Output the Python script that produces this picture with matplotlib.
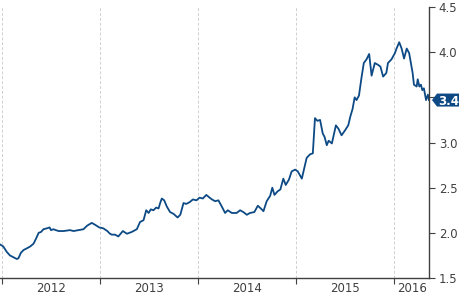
import matplotlib
matplotlib.use("Agg")
import matplotlib.pyplot as plt
from matplotlib.patches import Polygon
import pandas as pd

fechas = [
    "2011-12-25", "2012-01-05", "2012-01-18", "2012-01-30", "2012-02-12", "2012-02-25",
    "2012-03-02", "2012-03-11", "2012-03-21", "2012-04-03", "2012-04-15", "2012-04-27",
    "2012-05-07", "2012-05-16", "2012-05-25", "2012-06-03", "2012-06-16", "2012-06-26",
    "2012-07-01", "2012-07-10", "2012-07-29", "2012-08-17", "2012-09-10", "2012-09-23",
    "2012-10-11", "2012-10-30", "2012-11-13", "2012-11-30", "2012-12-12", "2012-12-28",
    "2013-01-12", "2013-01-27", "2013-02-06", "2013-02-13", "2013-02-25", "2013-03-09",
    "2013-03-26", "2013-04-10", "2013-04-28", "2013-05-17", "2013-05-29", "2013-06-11",
    "2013-06-21", "2013-06-30", "2013-07-08", "2013-07-18", "2013-07-28", "2013-08-06",
    "2013-08-12", "2013-08-18", "2013-08-27", "2013-09-06", "2013-09-18", "2013-10-01",
    "2013-10-16", "2013-10-26", "2013-11-07", "2013-11-17", "2013-11-30", "2013-12-12",
    "2013-12-25", "2014-01-06", "2014-01-18", "2014-01-31", "2014-02-12", "2014-02-21",
    "2014-03-05", "2014-03-17", "2014-03-30", "2014-04-11", "2014-04-21", "2014-05-06",
    "2014-05-24", "2014-06-06", "2014-06-18", "2014-07-01", "2014-07-13", "2014-07-29",
    "2014-08-11", "2014-08-22", "2014-09-01", "2014-09-13", "2014-09-26", "2014-10-04",
    "2014-10-12", "2014-10-24", "2014-11-03", "2014-11-14", "2014-11-23", "2014-12-05",
    "2014-12-15", "2014-12-28", "2015-01-07", "2015-01-22", "2015-02-01", "2015-02-09",
    "2015-02-22", "2015-03-04", "2015-03-12", "2015-03-21", "2015-03-31", "2015-04-10",
    "2015-04-17", "2015-04-25", "2015-05-02", "2015-05-14", "2015-05-29", "2015-06-08",
    "2015-06-19", "2015-07-01", "2015-07-14", "2015-07-22", "2015-07-30", "2015-08-07",
    "2015-08-14", "2015-08-23", "2015-09-01", "2015-09-10", "2015-09-20", "2015-09-30",
    "2015-10-09", "2015-10-21", "2015-11-02", "2015-11-11", "2015-11-21", "2015-12-03",
    "2015-12-09", "2015-12-22", "2016-01-04", "2016-01-10", "2016-01-20", "2016-01-29",
    "2016-02-07", "2016-02-17", "2016-02-26", "2016-03-10", "2016-03-15", "2016-03-25",
    "2016-03-29", "2016-04-04", "2016-04-10", "2016-04-15", "2016-04-21", "2016-04-29",
    "2016-05-06", "2016-05-10",
]

valores = [
    1.87, 1.85, 1.79, 1.75, 1.73, 1.71,
    1.72, 1.78, 1.81, 1.83, 1.85, 1.88,
    1.94, 2.00, 2.01, 2.04, 2.05, 2.06,
    2.03, 2.04, 2.02, 2.02, 2.03, 2.02,
    2.03, 2.04, 2.08, 2.11, 2.09, 2.06,
    2.05, 2.02, 1.99, 1.98, 1.98, 1.96,
    2.02, 1.99, 2.01, 2.04, 2.12, 2.14,
    2.25, 2.22, 2.26, 2.25, 2.28, 2.27,
    2.33, 2.38, 2.36, 2.29, 2.23, 2.21,
    2.17, 2.20, 2.33, 2.32, 2.34, 2.37,
    2.36, 2.39, 2.38, 2.42, 2.39, 2.37,
    2.35, 2.36, 2.29, 2.22, 2.25, 2.22,
    2.22, 2.25, 2.23, 2.20, 2.22, 2.23,
    2.30, 2.27, 2.24, 2.35, 2.41, 2.50,
    2.42, 2.46, 2.48, 2.60, 2.53, 2.59,
    2.68, 2.70, 2.68, 2.60, 2.73, 2.83,
    2.87, 2.88, 3.27, 3.24, 3.25, 3.10,
    3.06, 2.97, 3.02, 2.99, 3.19, 3.15,
    3.08, 3.13, 3.19, 3.29, 3.37, 3.50,
    3.47, 3.52, 3.71, 3.88, 3.92, 3.98,
    3.74, 3.88, 3.86, 3.84, 3.73, 3.77,
    3.88, 3.92, 3.99, 4.04, 4.11, 4.04,
    3.93, 4.04, 3.99, 3.77, 3.64, 3.62,
    3.70, 3.62, 3.64, 3.58, 3.60, 3.47,
    3.53, 3.47,
]

anios = ["2012", "2013", "2014", "2015", "2016"]
ultimo_valor = 3.47

azul = "#0d4a85"
gris = "#404040"

fechas = pd.to_datetime(fechas)

fig = plt.figure(figsize=(4.6, 2.95), dpi=100)
ax = fig.add_axes([0.0, 0.0576, 0.9326, 0.9186])

ax.plot(fechas, valores, color=azul, linewidth=1.3)

ax.set_ylim(1.5, 4.5)
ax.set_xlim(pd.Timestamp("2011-12-24"), pd.Timestamp("2016-05-10"))

# ejes: solo derecha y abajo
ax.spines["left"].set_visible(False)
ax.spines["top"].set_visible(False)
for lado in ("right", "bottom"):
    ax.spines[lado].set_color(gris)
    ax.spines[lado].set_linewidth(1.0)

ax.yaxis.tick_right()
ax.set_yticks([1.5, 2.0, 2.5, 3.0, 3.5, 4.0, 4.5])
ax.set_yticklabels(["1.5", "2.0", "2.5", "3.0", "", "4.0", "4.5"])
ax.tick_params(axis="y", direction="out", length=4, color=gris,
               labelsize=8.5, labelcolor=gris, pad=3)

# marcas de año en los limites, etiquetas a mitad de año
inicios = [pd.Timestamp(f"{a}-01-01") for a in anios]
ax.set_xticks(inicios)
ax.set_xticklabels([])
ax.tick_params(axis="x", which="major", direction="out", length=4, color=gris)
medios = [pd.Timestamp(f"{a}-07-01") for a in anios[:-1]] + [pd.Timestamp("2016-03-08")]
ax.set_xticks(medios, minor=True)
ax.set_xticklabels(anios, minor=True)
ax.tick_params(axis="x", which="minor", length=0, labelsize=8.5,
               labelcolor=gris, pad=3)

ax.grid(axis="x", which="major", color="#d0d0d0", linestyle=(0, (3, 2)), linewidth=0.7)
ax.grid(axis="y", visible=False)

# etiqueta del último valor: flecha pequeña en pixeles
fig.canvas.draw()
x0 = ax.transAxes.transform((1.0, 0))[0] + 3
yc = ax.transData.transform((0, ultimo_valor))[1]
h = 6.5
pts = [(x0, yc), (x0 + 5, yc + h), (x0 + 40, yc + h), (x0 + 40, yc - h), (x0 + 5, yc - h)]
pts = [fig.transFigure.inverted().transform(p) for p in pts]
fig.patches.append(Polygon(pts, closed=True, fc=azul, ec="none",
                           transform=fig.transFigure, figure=fig))
tx, ty = fig.transFigure.inverted().transform((x0 + 6, yc))
fig.text(tx, ty, f"{ultimo_valor:.2f}", ha="left", va="center_baseline",
         fontsize=8.5, fontweight="bold", color="white")

fig.savefig("out.png", dpi=100)
